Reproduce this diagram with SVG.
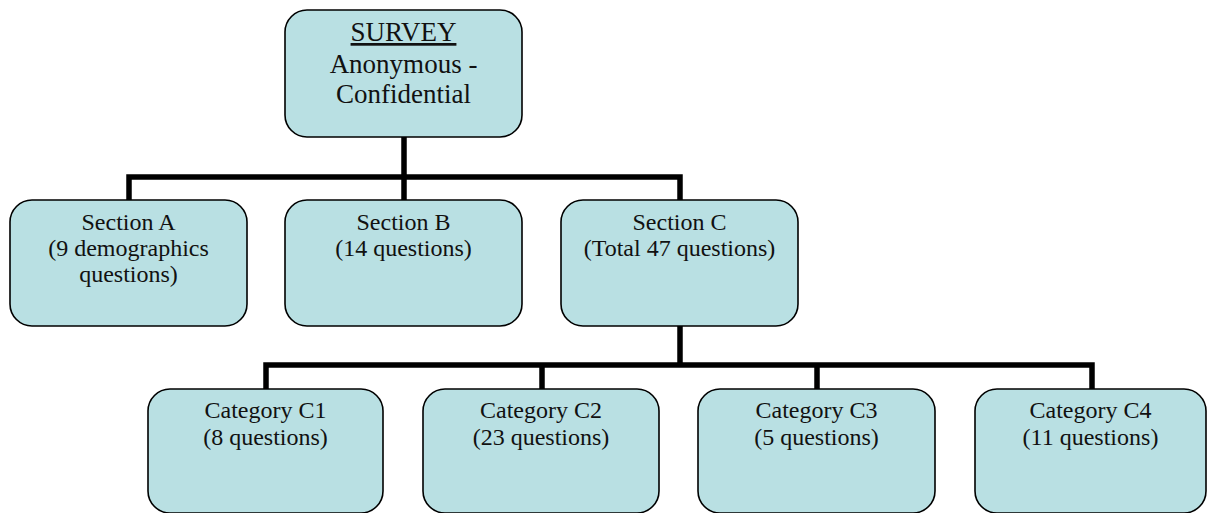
<svg xmlns="http://www.w3.org/2000/svg" width="1207" height="513" viewBox="0 0 1207 513">
<style>
.box{fill:#B9E0E3;stroke:#000;stroke-width:1.6}
.t{font-family:"Liberation Serif","Times New Roman",serif;font-size:24px;fill:#111;text-anchor:middle}
.tt{font-family:"Liberation Serif","Times New Roman",serif;font-size:27px;fill:#111;text-anchor:middle}
.c{fill:none;stroke:#000;stroke-width:5.5;stroke-linejoin:miter}
</style>
<rect width="1207" height="513" fill="#fff"/>
<g id="connectors">
<path class="c" d="M404 137V177M129 200V177H680V200M404 177V200"/>
<path class="c" d="M680 326V365M266 390V365H1092V390M542 365V390M817 365V390"/>
</g>
<g id="survey">
<rect class="box" x="285" y="10" width="237" height="127" rx="22"/>
<text class="tt" x="403.5" y="41" text-decoration="underline">SURVEY</text>
<text class="tt" x="403.5" y="73">Anonymous -</text>
<text class="tt" x="403.5" y="103">Confidential</text>
</g>
<g id="sectionA">
<rect class="box" x="10" y="200" width="237" height="126" rx="22"/>
<text class="t" x="128.5" y="230">Section A</text>
<text class="t" x="128.5" y="256">(9 demographics</text>
<text class="t" x="128.5" y="282">questions)</text>
</g>
<g id="sectionB">
<rect class="box" x="285" y="200" width="237" height="126" rx="22"/>
<text class="t" x="403.5" y="230">Section B</text>
<text class="t" x="403.5" y="256">(14 questions)</text>
</g>
<g id="sectionC">
<rect class="box" x="561" y="200" width="237" height="126" rx="22"/>
<text class="t" x="679.5" y="230">Section C</text>
<text class="t" x="679.5" y="256">(Total 47 questions)</text>
</g>
<g id="catC1">
<rect class="box" x="148" y="389" width="235" height="124" rx="22"/>
<text class="t" x="265.5" y="418">Category C1</text>
<text class="t" x="265.5" y="445">(8 questions)</text>
</g>
<g id="catC2">
<rect class="box" x="423" y="389" width="236" height="124" rx="22"/>
<text class="t" x="541" y="418">Category C2</text>
<text class="t" x="541" y="445">(23 questions)</text>
</g>
<g id="catC3">
<rect class="box" x="698" y="389" width="237" height="124" rx="22"/>
<text class="t" x="816.5" y="418">Category C3</text>
<text class="t" x="816.5" y="445">(5 questions)</text>
</g>
<g id="catC4">
<rect class="box" x="975" y="389" width="231" height="124" rx="22"/>
<text class="t" x="1090.5" y="418">Category C4</text>
<text class="t" x="1090.5" y="445">(11 questions)</text>
</g>
</svg>
